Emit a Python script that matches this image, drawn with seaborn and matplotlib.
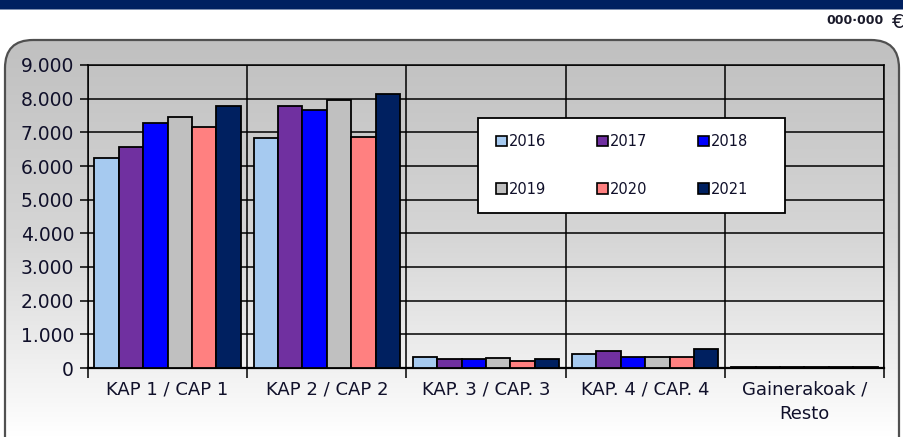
import matplotlib
matplotlib.use("Agg")
import matplotlib.pyplot as plt
import numpy as np
import pandas as pd
import seaborn as sns
from matplotlib.patches import FancyBboxPatch, Rectangle, Patch

categories = ["KAP 1 / CAP 1", "KAP 2 / CAP 2", "KAP. 3 / CAP. 3", "KAP. 4 / CAP. 4", "Gainerakoak /\nResto"]
years = ["2016", "2017", "2018", "2019", "2020", "2021"]
v2016 = [6230, 6820, 336, 406, 40]
v2017 = [6575, 7770, 258, 515, 40]
v2018 = [7290, 7650, 258, 327, 40]
v2019 = [7465, 7960, 287, 327, 40]
v2020 = [7170, 6870, 208, 327, 40]
v2021 = [7770, 8140, 277, 574, 40]
colors = ["#A6CAF0", "#7030A0", "#0000FF", "#C0C0C0", "#FF8080", "#002060"]
yticks = [0, 1000, 2000, 3000, 4000, 5000, 6000, 7000, 8000, 9000]
ytick_labels = ["0", "1.000", "2.000", "3.000", "4.000", "5.000", "6.000", "7.000", "8.000", "9.000"]

series = [v2016, v2017, v2018, v2019, v2020, v2021]
rows = []
for y, vals in zip(years, series):
    for c, v in zip(categories, vals):
        rows.append({"cat": c, "year": y, "value": v})
df = pd.DataFrame(rows)

sns.set_theme(style="white")
plt.rcParams["font.family"] = ["DejaVu Sans"]

W, H = 904, 437
fig = plt.figure(figsize=(W / 100, H / 100), dpi=100)
fig.patch.set_facecolor("white")

# background layer in pixel coordinates
bg = fig.add_axes([0, 0, 1, 1], zorder=-10)
bg.set_xlim(0, W)
bg.set_ylim(H, 0)
bg.axis("off")
bg.add_patch(Rectangle((0, 0), W, 8.5, facecolor="#002060", edgecolor="none"))
bg.add_patch(Rectangle((0, 8.5), W, 1.5, facecolor="#8090b0", edgecolor="none"))
grad = np.linspace(0, 1, 256).reshape(-1, 1)
cmap = matplotlib.colors.LinearSegmentedColormap.from_list("g", ["#c0c0c0", "#d6d6d6", "#ffffff"])
box = FancyBboxPatch((5, 40), 894, 440, boxstyle="round,pad=0,rounding_size=28",
                     facecolor="none", edgecolor="#505050", linewidth=1.6, zorder=3)
bg.add_patch(box)
im = bg.imshow(grad, cmap=cmap, aspect="auto", extent=(5, 899, 437, 40), zorder=1)
im.set_clip_path(box)
bg.text(884, 21, "000·000", fontsize=9, fontweight="bold", ha="right", va="center", color="#1a1a2a")
bg.text(904, 23, "€", fontsize=14, ha="right", va="center", color="#1a1a2a")

ax = fig.add_axes([88 / W, 69 / H, 796 / W, 303 / H])
ax.set_facecolor("none")
sns.barplot(data=df, x="cat", y="value", hue="year", palette=colors, width=0.92,
            saturation=1, edgecolor="black", linewidth=1.3, ax=ax, legend=False, zorder=3)
ax.set_xlim(-0.5, 4.5)
ax.set_ylim(0, 9000)
ax.set_yticks(yticks)
ax.set_yticklabels(ytick_labels)
ax.set_xticks(range(len(categories)))
ax.set_xticklabels(categories, linespacing=1.45)
ax.set_xticks([i - 0.5 for i in range(len(categories) + 1)], minor=True)
ax.set_xlabel("")
ax.set_ylabel("")
ax.yaxis.grid(True, color="black", linewidth=1.1, zorder=0)
ax.xaxis.grid(True, which="minor", color="black", linewidth=1.1, zorder=0)
ax.set_axisbelow(True)
ax.tick_params(axis="y", direction="out", length=6, width=1.1, color="black",
               labelsize=13.5, labelcolor="#10102a", pad=4, left=True)
ax.tick_params(axis="x", which="major", length=0, labelsize=13, labelcolor="#10102a", pad=9)
ax.tick_params(axis="x", which="minor", direction="out", length=7, width=1.1, color="black", bottom=True)
for s in ax.spines.values():
    s.set_color("black")
    s.set_linewidth(1.1)
ax.spines["bottom"].set_linewidth(1.6)

# legend box (axes coordinates from pixel positions)
def px_to_ax(x, y):
    return (x - 88) / 796, (368 - y) / 303

bx0, by0 = px_to_ax(478, 213)
bx1, by1 = px_to_ax(785, 118)
ax.add_patch(Rectangle((bx0, by0), bx1 - bx0, by1 - by0, transform=ax.transAxes,
                       facecolor="white", edgecolor="black", linewidth=1.3, zorder=5))
handles = [Patch(facecolor=c, edgecolor="black", linewidth=1.2) for c in colors]
order = [0, 3, 1, 4, 2, 5]
lx, ly = px_to_ax(496, 134)
leg = ax.legend([handles[i] for i in order], [years[i] for i in order], ncol=3,
                loc="upper left", bbox_to_anchor=(lx, ly),
                frameon=False, fontsize=10.5,
                handlelength=0.75, handleheight=0.75, handletextpad=0.15,
                borderpad=0, labelspacing=2.25, columnspacing=3.45, borderaxespad=0)
leg.set_zorder(6)
for t in leg.get_texts():
    t.set_color("#10102a")

fig.savefig("out.png", dpi=100)
